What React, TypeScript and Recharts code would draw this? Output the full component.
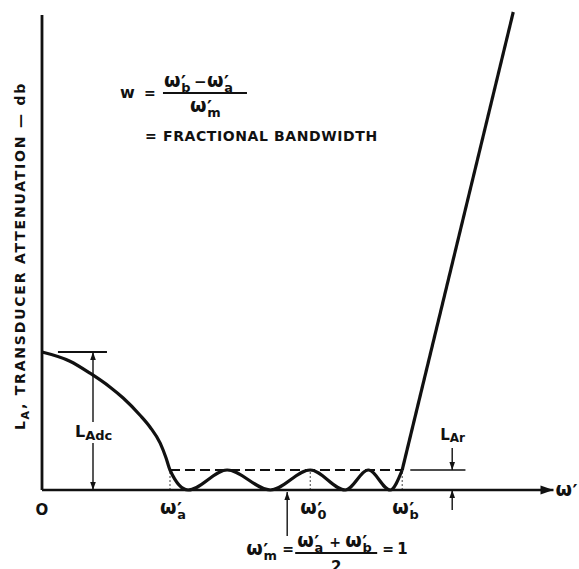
import React from 'react';
import { ComposedChart, Line, XAxis, YAxis, ReferenceLine, ReferenceDot } from 'recharts';

// normalized frequency w' (w'm = 1) and attenuation in dB
// low-frequency fall-off, equal-ripple pass band, stop-band rise
const lowFreq = [0, 0.114, 0.196, 0.278, 0.331, 0.4, 0.441, 0.482, 0.506];
const lowDb = [3.45, 3.22, 2.92, 2.57, 2.3, 1.87, 1.57, 1.17, 0.8];
const passFreq = [0.522, 0.596, 0.755, 0.931, 1.094, 1.237, 1.331, 1.42, 1.469];
const passDb = [0.5, 0, 0.5, 0, 0.5, 0, 0.5, 0, 0.5];
const highFreq = [1.469, 1.922];
const highDb = [0.5, 11.95];

// marked frequencies under the axis: w'a, w'0, w'b
const markFreqs = [0.522, 1.094, 1.469];
const markSubs = ['a', '0', 'b'];

const rippleDb = 0.5; // L_Ar
const dcDb = 3.45; // L_Adc
const centerFreq = 1; // w'm

const INK = '#111';
const FONT = '"DejaVu Sans", sans-serif';

const rows: Record<number, any> = {};
const put = (fs: number[], vs: number[], key: string) =>
  fs.forEach((f, i) => {
    rows[f] = { ...(rows[f] || { f }), [key]: vs[i] };
  });
put(lowFreq, lowDb, 'band');
put(passFreq, passDb, 'band');
put(highFreq, highDb, 'stop');
const data = Object.values(rows).sort((a: any, b: any) => a.f - b.f);

const head = (tx: number, ty: number, fx: number, fy: number, len: number, half: number) => {
  const dx = tx - fx;
  const dy = ty - fy;
  const d = Math.hypot(dx, dy) || 1;
  const ux = dx / d;
  const uy = dy / d;
  const bx = tx - ux * len;
  const by = ty - uy * len;
  return `${tx},${ty} ${bx - uy * half},${by + ux * half} ${bx + uy * half},${by - ux * half}`;
};

// line with arrow heads, used as ReferenceLine shape
const arrow = (which: 'end' | 'start' | 'both', width = 1.4, len = 8, half = 2.8) => (p: any) => (
  <g>
    <line x1={p.x1} y1={p.y1} x2={p.x2} y2={p.y2} stroke={INK} strokeWidth={width} />
    {which !== 'start' && <polygon points={head(p.x2, p.y2, p.x1, p.y1, len, half)} fill={INK} />}
    {which !== 'end' && <polygon points={head(p.x1, p.y1, p.x2, p.y2, len, half)} fill={INK} />}
  </g>
);

// text drawn at a data anchor, ReferenceDot shape
const note = (draw: (x: number, y: number) => React.ReactNode) => (p: any) => <g>{draw(p.cx, p.cy)}</g>;

const Om = ({ x, y, sub, size = 19 }: { x: number; y: number; sub?: string; size?: number }) => (
  <text x={x} y={y} fontSize={size} fill={INK} fontFamily={FONT} fontWeight="bold">
    ω
    <tspan dx={0.5} dy={size * 0.08} fontSize={size}>′</tspan>
    {sub && (
      <tspan dx={-size * 0.25} dy={size * 0.16} fontSize={size * 0.68}>
        {sub}
      </tspan>
    )}
  </text>
);

const T = (props: any) => <text fill={INK} fontFamily={FONT} fontWeight="bold" {...props} />;

export default function App() {
  return (
    <div style={{ position: 'absolute', left: 0, top: 0, width: 579, height: 569, background: '#fff', fontFamily: FONT }}>
      <ComposedChart width={579} height={569} data={data} margin={{ top: 10, right: 27, bottom: 79, left: 42 }}>
        <XAxis dataKey="f" type="number" domain={[0, 2.08]} hide />
        <YAxis type="number" domain={[0, 12]} hide />

        {/* axes */}
        <ReferenceLine segment={[{ x: 0, y: 0 }, { x: 0, y: 11.875 }]} stroke={INK} strokeWidth={2.8} ifOverflow="visible" />
        <ReferenceLine segment={[{ x: 0, y: 0 }, { x: 2.086, y: 0 }]} ifOverflow="visible" shape={arrow('end', 2.5, 13, 4.5)} />

        {/* ripple level and marks */}
        <ReferenceLine
          segment={[{ x: markFreqs[0], y: rippleDb }, { x: markFreqs[2], y: rippleDb }]}
          stroke={INK}
          strokeWidth={1.8}
          strokeDasharray="10 5"
        />
        {markFreqs.map((m) => (
          <ReferenceLine key={m} segment={[{ x: m, y: 0 }, { x: m, y: rippleDb }]} stroke={INK} strokeWidth={0.8} strokeDasharray="2 2" />
        ))}

        <Line type="monotone" dataKey="band" stroke={INK} strokeWidth={3.2} dot={false} isAnimationActive={false} />
        <Line type="linear" dataKey="stop" stroke={INK} strokeWidth={3.2} dot={false} isAnimationActive={false} />

        {/* L_Adc */}
        <ReferenceLine segment={[{ x: 0.065, y: dcDb }, { x: 0.265, y: dcDb }]} stroke={INK} strokeWidth={1.8} />
        <ReferenceLine segment={[{ x: 0.208, y: 1.7 }, { x: 0.208, y: dcDb }]} shape={arrow('end')} />
        <ReferenceLine segment={[{ x: 0.208, y: 1.175 }, { x: 0.208, y: 0 }]} shape={arrow('end')} />
        <ReferenceDot
          x={0.208}
          y={1.325}
          r={0}
          shape={note((x, y) => (
            <T x={x - 18} y={y} fontSize={16}>
              L<tspan dy={3} fontSize={13}>Adc</tspan>
            </T>
          ))}
        />

        {/* L_Ar */}
        <ReferenceLine segment={[{ x: 1.502, y: rippleDb }, { x: 1.727, y: rippleDb }]} stroke={INK} strokeWidth={1.5} ifOverflow="visible" />
        <ReferenceLine segment={[{ x: 1.673, y: 1.05 }, { x: 1.673, y: rippleDb }]} shape={arrow('end')} ifOverflow="visible" />
        <ReferenceLine segment={[{ x: 1.673, y: -0.5 }, { x: 1.673, y: 0 }]} shape={arrow('end')} ifOverflow="visible" />
        <ReferenceDot
          x={1.673}
          y={1.25}
          r={0}
          ifOverflow="visible"
          shape={note((x, y) => (
            <T x={x - 12} y={y} fontSize={15}>
              L<tspan dy={2} fontSize={12}>Ar</tspan>
            </T>
          ))}
        />

        {/* axis labels */}
        <ReferenceDot x={0} y={-0.6} r={0} ifOverflow="visible" shape={note((x, y) => <T x={x} y={y + 1} fontSize={15} textAnchor="middle">O</T>)} />
        {markFreqs.map((m, i) => (
          <ReferenceDot key={m} x={m} y={-0.6} r={0} ifOverflow="visible" shape={note((x, y) => <Om x={x - 10} y={y} sub={markSubs[i]} />)} />
        ))}
        <ReferenceDot x={2.086} y={-0.15} r={0} ifOverflow="visible" shape={note((x, y) => <Om x={x + 2} y={y} />)} />
        <ReferenceDot
          x={0}
          y={5.85}
          r={0}
          ifOverflow="visible"
          shape={note((x, y) => (
            <T x={x - 17} y={y} transform={`rotate(-90 ${x - 17} ${y})`} textAnchor="middle" fontSize={14} letterSpacing={1.8}>
              L<tspan dy={4} fontSize={11}>A</tspan>
              <tspan dy={-4}>, TRANSDUCER ATTENUATION — db</tspan>
            </T>
          ))}
        />

        {/* fractional bandwidth */}
        <ReferenceDot
          x={0.318}
          y={9.8}
          r={0}
          shape={note((x, y) => (
            <g>
              <T x={x} y={y} fontSize={16}>w</T>
              <T x={x + 24} y={y} fontSize={14}>=</T>
              <line x1={x + 43} y1={y - 5} x2={x + 127} y2={y - 5} stroke={INK} strokeWidth={1.8} />
              <Om x={x + 44} y={y - 11} sub="b" />
              <T x={x + 74} y={y - 11} fontSize={15}>−</T>
              <Om x={x + 87} y={y - 11} sub="a" />
              <Om x={x + 70} y={y + 14} sub="m" />
              <T x={x + 25} y={y + 43} fontSize={14}>=</T>
              <T x={x + 43} y={y + 43} fontSize={14} letterSpacing={0.6}>FRACTIONAL BANDWIDTH</T>
            </g>
          ))}
        />

        {/* w'm */}
        <ReferenceLine segment={[{ x: centerFreq, y: -1.15 }, { x: centerFreq, y: -0.05 }]} shape={arrow('end')} ifOverflow="visible" />
        <ReferenceDot
          x={centerFreq}
          y={-1.625}
          r={0}
          ifOverflow="visible"
          shape={note((x, y) => (
            <g>
              <Om x={x - 41} y={y} sub="m" />
              <T x={x - 5} y={y - 1} fontSize={14}>=</T>
              <Om x={x + 10} y={y - 8} sub="a" />
              <T x={x + 42} y={y - 8} fontSize={14}>+</T>
              <Om x={x + 58} y={y - 8} sub="b" />
              <line x1={x + 8} y1={y - 2} x2={x + 90} y2={y - 2} stroke={INK} strokeWidth={1.8} />
              <T x={x + 49} y={y + 17} fontSize={15} textAnchor="middle">2</T>
              <T x={x + 95} y={y - 1} fontSize={14}>=</T>
              <T x={x + 110} y={y - 1} fontSize={15}>1</T>
            </g>
          ))}
        />
      </ComposedChart>
    </div>
  );
}
